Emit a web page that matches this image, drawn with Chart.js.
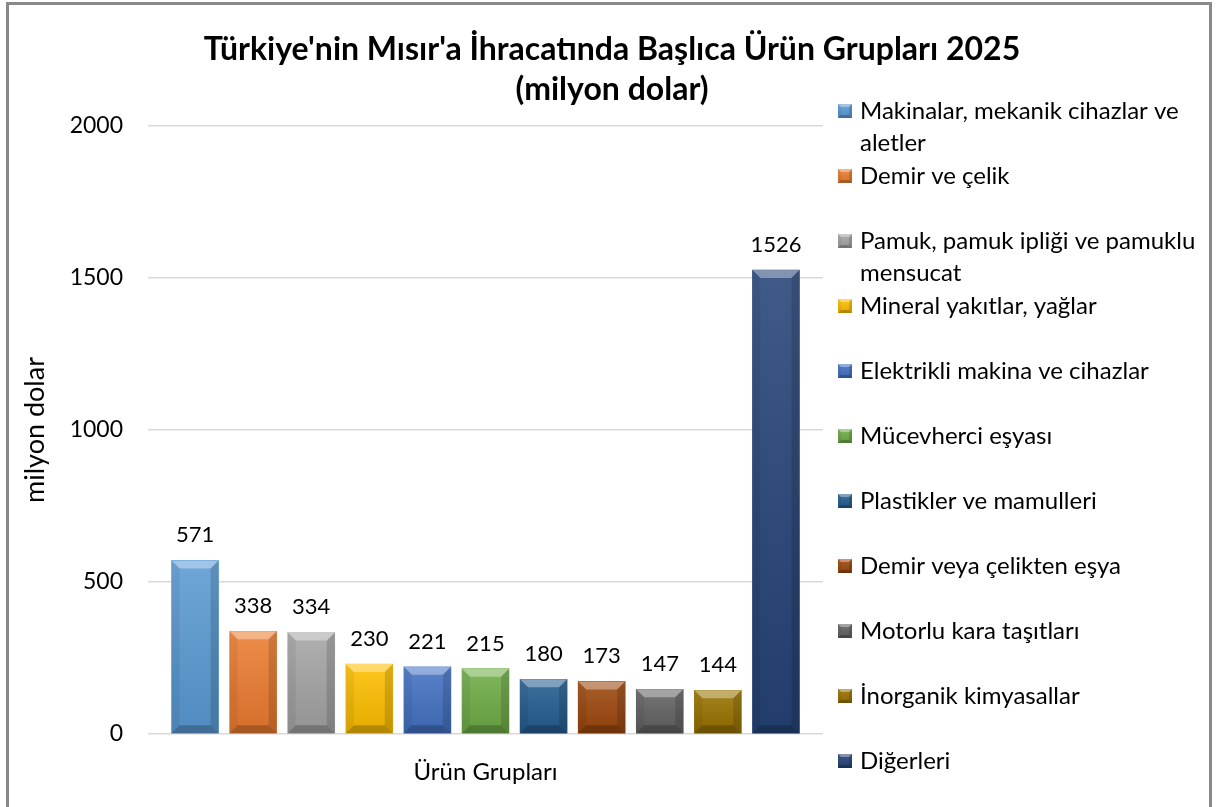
<!DOCTYPE html>
<html>
<head>
<meta charset="utf-8">
<script src="https://cdn.jsdelivr.net/npm/chart.js@4.4.1/dist/chart.umd.min.js"></script>
<style>
    html, body { margin: 0; padding: 0; background: #fff; }
    #wrap { width: 1217px; height: 807px; }
</style>
</head>
<body>
<div id="wrap"><canvas id="exportChart" width="1217" height="807"></canvas></div>
<script>
const titleLines = ["Türkiye'nin Mısır'a İhracatında Başlıca Ürün Grupları 2025", '(milyon dolar)'];
const categories = [
    'Makinalar, mekanik cihazlar ve aletler',
    'Demir ve çelik',
    'Pamuk, pamuk ipliği ve pamuklu mensucat',
    'Mineral yakıtlar, yağlar',
    'Elektrikli makina ve cihazlar',
    'Mücevherci eşyası',
    'Plastikler ve mamulleri',
    'Demir veya çelikten eşya',
    'Motorlu kara taşıtları',
    'İnorganik kimyasallar',
    'Diğerleri'
];
const values = [571, 338, 334, 230, 221, 215, 180, 173, 147, 144, 1526];
const colors = ['#5B9BD5', '#ED7D31', '#A5A5A5', '#FFC000', '#4472C4', '#70AD47',
                '#255E91', '#9E480E', '#636363', '#997300', '#264478'];
const yTicks = [0, 500, 1000, 1500, 2000];

const FONT = 'Lato, Calibri, Carlito, sans-serif';

// bevel look like the office chart
function drawBevel(ctx, left, top, right, bottom, b) {
    const g = ctx.createLinearGradient(0, top, 0, bottom);
    g.addColorStop(0, 'rgba(255,255,255,0.12)');
    g.addColorStop(1, 'rgba(0,0,0,0.10)');
    ctx.fillStyle = g;
    ctx.fillRect(left, top, right - left, bottom - top);

    const poly = (pts, fill) => {
        ctx.beginPath();
        ctx.moveTo(pts[0][0], pts[0][1]);
        for (let i = 1; i < pts.length; i++) ctx.lineTo(pts[i][0], pts[i][1]);
        ctx.closePath();
        ctx.fillStyle = fill;
        ctx.fill();
    };
    poly([[left, top], [right, top], [right - b, top + b], [left + b, top + b]], 'rgba(255,255,255,0.35)');
    poly([[left, top], [left + b, top + b], [left + b, bottom - b], [left, bottom]], 'rgba(0,0,0,0.06)');
    poly([[right, top], [right, bottom], [right - b, bottom - b], [right - b, top + b]], 'rgba(0,0,0,0.14)');
    poly([[left, bottom], [left + b, bottom - b], [right - b, bottom - b], [right, bottom]], 'rgba(0,0,0,0.22)');
}

function wrapText(ctx, text, maxWidth) {
    const words = text.split(' ');
    const lines = [];
    let line = '';
    words.forEach(w => {
        const test = line ? line + ' ' + w : w;
        if (ctx.measureText(test).width > maxWidth && line) {
            lines.push(line);
            line = w;
        } else {
            line = test;
        }
    });
    if (line) lines.push(line);
    return lines;
}

const decorPlugin = {
    id: 'decor',
    beforeDraw(chart) {
        const ctx = chart.ctx;
        ctx.save();
        ctx.fillStyle = '#fff';
        ctx.fillRect(0, 0, chart.width, chart.height);
        ctx.restore();
    },
    afterDatasetsDraw(chart) {
        const ctx = chart.ctx;
        const meta = chart.getDatasetMeta(0);
        ctx.save();
        meta.data.forEach((bar, i) => {
            const { x, y, base, width } = bar.getProps(['x', 'y', 'base', 'width'], true);
            drawBevel(ctx, x - width / 2, y, x + width / 2, base, 8);

            ctx.fillStyle = '#000';
            ctx.font = '22px ' + FONT;
            ctx.textAlign = 'center';
            ctx.textBaseline = 'alphabetic';
            ctx.fillText(String(values[i]), x, y - 18);
        });
        ctx.restore();
    },
    afterDraw(chart) {
        const ctx = chart.ctx;
        ctx.save();

        // title, centred on the whole chart
        ctx.fillStyle = '#000';
        ctx.font = 'bold 32px ' + FONT;
        ctx.textAlign = 'center';
        ctx.textBaseline = 'middle';
        titleLines.forEach((t, k) => ctx.fillText(t, 612, 50 + k * 40));

        // legend on the right
        ctx.font = '24px ' + FONT;
        ctx.textBaseline = 'middle';
        ctx.textAlign = 'left';
        const markX = 838, textX = 860, firstY = 111, step = 65, lineH = 32;
        categories.forEach((cat, i) => {
            const y = firstY + i * step;
            const s = 14;
            ctx.fillStyle = colors[i];
            ctx.fillRect(markX, y - s / 2, s, s);
            drawBevel(ctx, markX, y - s / 2, markX + s, y + s / 2, 3);
            ctx.fillStyle = '#000';
            wrapText(ctx, cat, 346).forEach((ln, k) => {
                ctx.fillText(ln, textX, y + k * lineH);
            });
        });

        // outer frame
        ctx.strokeStyle = '#898989';
        ctx.lineWidth = 3;
        ctx.strokeRect(7.5, 3.5, 1203, 900);
        ctx.restore();
    }
};

const chartData = {
    datasets: [{
        label: 'milyon dolar',
        data: values.map((v, i) => ({ x: i, y: v })),
        backgroundColor: colors,
        borderWidth: 0,
        barThickness: 47
    }]
};

new Chart(document.getElementById('exportChart').getContext('2d'), {
    type: 'bar',
    data: chartData,
    plugins: [decorPlugin],
    options: {
        responsive: false,
        animation: false,
        layout: { padding: { left: 0, right: 394, top: 126, bottom: 0 } },
        plugins: {
            legend: { display: false },
            tooltip: { enabled: false }
        },
        scales: {
            x: {
                type: 'linear',
                offset: false,
                min: -0.81,
                max: 10.81,
                ticks: { display: false },
                grid: { display: false },
                border: { display: false },
                title: {
                    display: true,
                    text: 'Ürün Grupları',
                    color: '#000',
                    font: { family: FONT, size: 24 },
                    padding: { top: 0, bottom: 20 }
                },
                afterFit(scale) { scale.height = 73; }
            },
            y: {
                min: 0,
                max: 2000,
                afterBuildTicks(scale) { scale.ticks = yTicks.map(v => ({ value: v })); },
                ticks: {
                    color: '#000',
                    font: { family: FONT, size: 23 },
                    padding: 25,
                    callback: v => String(v)
                },
                grid: { color: '#d9d9d9', lineWidth: 1.5, drawTicks: false },
                border: { display: false },
                title: {
                    display: true,
                    text: 'milyon dolar',
                    color: '#000',
                    font: { family: FONT, size: 27 },
                    padding: { top: 19, bottom: 0 }
                },
                afterFit(scale) { scale.width = 148; }
            }
        }
    }
});
</script>
</body>
</html>
